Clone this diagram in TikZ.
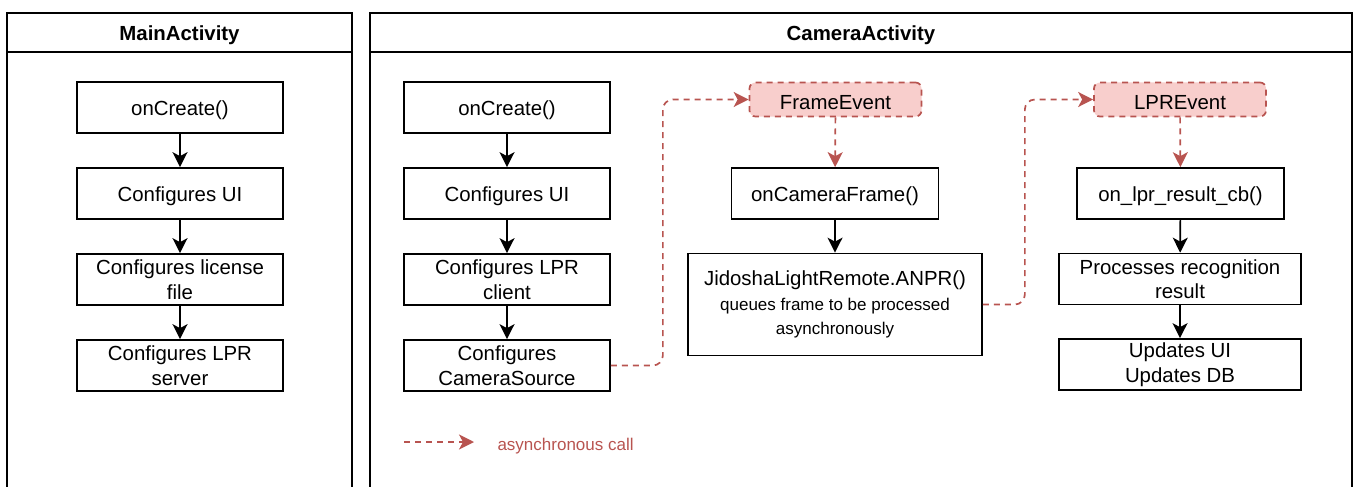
\documentclass[tikz,border=0pt]{standalone}
\usepackage{fontspec}
\setmainfont{Liberation Sans}
\usetikzlibrary{arrows.meta, positioning}
\definecolor{evfill}{HTML}{F8CECC}
\definecolor{evline}{HTML}{B85450}

\begin{document}
\begin{tikzpicture}[x=1pt, y=-1pt,
  block/.style={rectangle, draw, line width=1.7pt, fill=white, align=center, inner sep=2pt,
                minimum width=206pt, minimum height=51pt, font=\fontsize{20.4}{24.5}\selectfont,
                execute at begin node={\rule{0pt}{20pt}}},
  event/.style={block, rounded corners=6pt, dash pattern=on 6pt off 5pt, draw=evline,
                fill=evfill, minimum width=172pt, minimum height=34pt},
  arrow/.style={-{Stealth[length=15pt, width=15pt, inset=4pt]}, line width=1.7pt},
  async/.style={arrow, draw=evline, dash pattern=on 6pt off 5pt, rounded corners=10pt},
  lane/.style={line width=1.7pt},
  title/.style={font=\bfseries\fontsize{20.4}{24.5}\selectfont},
  small/.style={font=\fontsize{17}{20.4}\selectfont}
]
\useasboundingbox (0,0) rectangle (1355,487);

% swimlanes
\draw[lane] (7,487) |- (352,13) -- (352,487);
\draw[lane] (7,52) -- (352,52);
\node[title] (mainttl) at (179.5,35) {MainActivity};
\draw[lane] (370,487) |- (1352,13) -- (1352,487);
\draw[lane] (370,52) -- (1352,52);
\node[title] (camttl) at (861,35) {CameraActivity};

% MainActivity
\node[block] (mcreate) at (180,107.5) {onCreate()};
\node[block] (mui) at (180,193.5) {Configures UI};
\node[block] (mlic) at (180,279.5) {Configures license\\file};
\node[block] (msrv) at (180,365.5) {Configures LPR\\server};
\draw[arrow] (mcreate) -- (mui);
\draw[arrow] (mui) -- (mlic);
\draw[arrow] (mlic) -- (msrv);

% CameraActivity
\node[block] (ccreate) at (507,107.5) {onCreate()};
\node[block] (cui) at (507,193.5) {Configures UI};
\node[block] (cclient) at (507,279.5) {Configures LPR\\client};
\node[block] (csrc) at (507,365.5) {Configures\\CameraSource};
\draw[arrow] (ccreate) -- (cui);
\draw[arrow] (cui) -- (cclient);
\draw[arrow] (cclient) -- (csrc);

\node[event] (fev) at (835.5,99.5) {FrameEvent};
\node[block, minimum width=207pt] (camframe) at (835,193.5) {onCameraFrame()};
\node[block, minimum width=294pt, minimum height=102pt] (anpr) at (835,304.5)
  {JidoshaLightRemote.ANPR()\\{\fontsize{17}{24.5}\selectfont queues frame to be processed}\\
   {\fontsize{17}{24.5}\selectfont asynchronously}};
\draw[async] (fev) -- (camframe);
\draw[arrow] (camframe) -- (anpr);

\node[event] (lev) at (1180,99.5) {LPREvent};
\node[block, minimum width=207pt] (lprcb) at (1180.5,193.5) {on\_lpr\_result\_cb()};
\node[block, minimum width=242pt] (proc) at (1180,279) {Processes recognition\\result};
\node[block, minimum width=242pt] (upd) at (1180,364.5) {Updates UI\\Updates DB};
\draw[async] (lev) -- (lprcb);
\draw[arrow] (lprcb) -- (proc);
\draw[arrow] (proc) -- (upd);

% asynchronous calls
\draw[async] (csrc.east) -- ++(52,0) |- (fev.west);
\draw[async] (anpr.east) -- ++(42,0) |- (lev.west);

% legend
\coordinate (lgs) at (404,442);
\coordinate (lge) at (474,442);
\draw[async] (lgs) -- (lge);
\node[small, anchor=west, text=evline] (lgtxt) at (494,446) {asynchronous call};
\end{tikzpicture}
\end{document}
